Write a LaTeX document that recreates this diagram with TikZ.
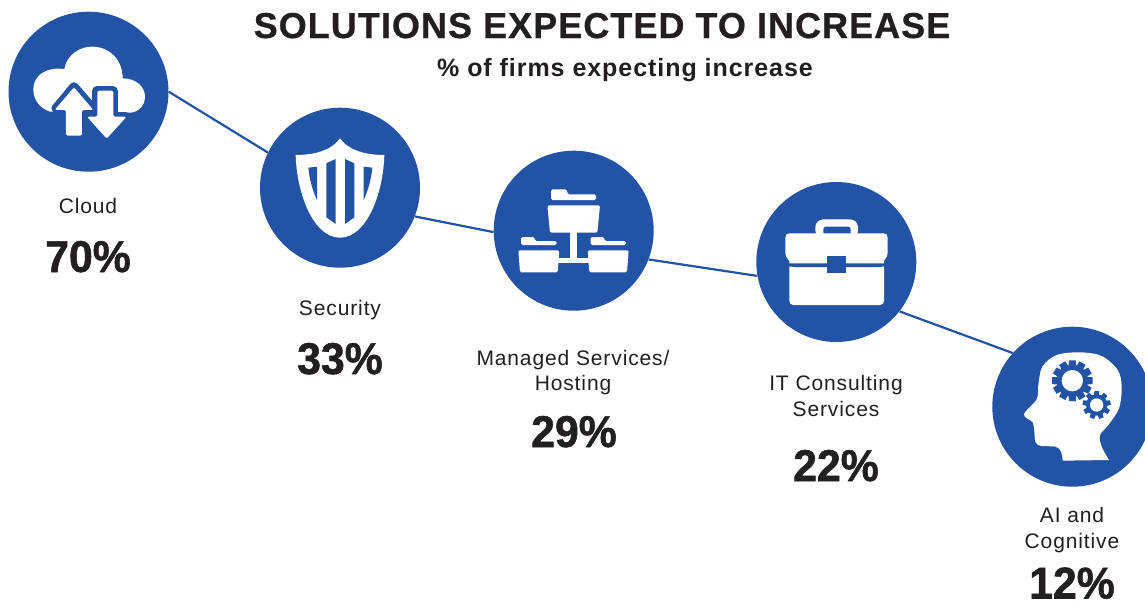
\documentclass[tikz,border=0pt]{standalone}
\usepackage{fontspec}
\setmainfont{Liberation Sans}
\newfontfamily\labelfont[LetterSpace=4.2]{Liberation Sans}
\newfontfamily\titlefont[LetterSpace=2.9,BoldFont={Liberation Sans Bold},BoldFeatures={FakeBold=0.6}]{Liberation Sans}
\newfontfamily\subfont[LetterSpace=3.8,BoldFont={Liberation Sans Bold}]{Liberation Sans}
\newfontfamily\pctfont[BoldFont={Liberation Sans Bold},BoldFeatures={FakeBold=1.2,FakeStretch=0.96}]{Liberation Sans}
\definecolor{bubblue}{HTML}{2353A4}
\definecolor{inkdark}{HTML}{231F20}
\tikzset{
  bub/.style={circle,fill=bubblue,inner sep=0pt,minimum size=160pt},
  link/.style={draw=bubblue,line width=2.2pt},
  lab/.style={inner sep=0pt,align=center,text=inkdark,font=\labelfont\fontsize{21}{25.5}\selectfont},
  pct/.style={inner sep=0pt,anchor=base,text=inkdark,font=\pctfont\bfseries\fontsize{44.5}{48}\selectfont},
  zoomed/.style={x=0.33333pt,y=-0.33333pt}
}
\newcommand{\gearicon}[6]{% cx cy ring-outer hole tooth-outer teeth
  \fill[bubblue] (#1,#2) circle[radius=#3];
  \foreach \a in {1,...,#6}{
    \fill[bubblue,rotate around={\a*360/#6:(#1,#2)}] (#1-#3*0.3,#2) -- (#1-#3*0.22,#2-#5) -- (#1+#3*0.22,#2-#5) -- (#1+#3*0.3,#2) -- cycle;
  }
  \fill[white] (#1,#2) circle[radius=#4];
}
\begin{document}
\begin{tikzpicture}[x=1pt,y=-1pt]
\useasboundingbox (0,0) rectangle (1145,605);
\clip (0,0) rectangle (1145,605);
\fill[white] (0,0) rectangle (1145,605);
% bubbles
\node[bub] (cloud) at (88.5,91.7) {};
\node[bub] (sec) at (340,187.7) {};
\node[bub] (man) at (573.7,230.7) {};
\node[bub] (cons) at (836.3,262) {};
\node[bub] (ai) at (1072.3,406.7) {};
% connectors
\draw[link] (cloud.0) -- (sec.154);
\draw[link] (sec.-21) -- (man.181);
\draw[link] (man.-21) -- (cons.190);
\draw[link] (cons.-38) -- (ai.138);
% cloud icon
\begin{scope}[shift={(0pt,0pt)},zoomed]
\fill[white] (150,335) .. controls (120,325) and (100,300) .. (100,268)
  .. controls (100,225) and (140,200) .. (193,207)
  .. controls (200,165) and (240,138) .. (280,140)
  .. controls (330,142) and (368,180) .. (368,235)
  .. controls (410,235) and (435,262) .. (435,290)
  .. controls (435,320) and (410,340) .. (385,338) -- cycle;
\path[fill=bubblue,draw=bubblue,line width=9pt,line join=round]
  (222,260) -- (278,325) -- (246,325) -- (246,407) -- (198,407) -- (198,325) -- (168,325) -- cycle;
\path[fill=bubblue,draw=bubblue,line width=9pt,line join=round]
  (290,272) -- (340,272) -- (340,350) -- (377,350) -- (320,412) -- (265,350) -- (290,350) -- cycle;
\fill[white,rounded corners=2pt] (222,262) -- (280,330) -- (246,330) -- (246,407) -- (198,407) -- (198,330) -- (164,330) -- cycle;
\fill[white,rounded corners=2pt] (292,272) -- (340,272) -- (340,350) -- (380,350) -- (320,416) -- (261,350) -- (292,350) -- cycle;
\end{scope}
% shield icon
\begin{scope}[shift={(255pt,-100pt)},zoomed]
\fill[white] (255,115) .. controls (235,145) and (190,165) .. (122,165)
  .. controls (125,280) and (175,413) .. (255,413)
  .. controls (335,413) and (385,280) .. (388,165)
  .. controls (320,165) and (275,145) .. (255,115) -- cycle;
\fill[bubblue] (160,203) -- (186,200) -- (186,300) .. controls (172,270) and (163,235) .. (160,203) -- cycle;
\fill[bubblue] (214,190) -- (242,177) -- (242,372) -- (214,352) -- cycle;
\fill[bubblue] (270,177) -- (298,190) -- (298,352) -- (270,372) -- cycle;
\fill[bubblue] (352,203) -- (326,200) -- (326,300) .. controls (340,270) and (349,235) .. (352,203) -- cycle;
\end{scope}
% folders icon
\begin{scope}[shift={(490pt,-145pt)},zoomed]
\fill[white] (240,255) rectangle (262,345);
\fill[white] (205,340) rectangle (297,355);
\fill[white,rounded corners=1.5pt] (183,165) -- (183,133) -- (230,133) -- (233,148) -- (318,148) -- (318,165) -- cycle;
\fill[white,rounded corners=1.5pt] (172,181) -- (330,181) -- (322,263) -- (180,263) -- cycle;
\fill[white,rounded corners=1.5pt] (93,300) -- (93,276) -- (133,276) -- (135,288) -- (200,288) -- (200,300) -- cycle;
\fill[white,rounded corners=1.5pt] (85,316) -- (208,316) -- (203,382) -- (90,382) -- cycle;
\fill[white,rounded corners=1.5pt] (302,300) -- (302,276) -- (342,276) -- (344,288) -- (408,288) -- (408,300) -- cycle;
\fill[white,rounded corners=1.5pt] (293,316) -- (416,316) -- (411,382) -- (298,382) -- cycle;
\end{scope}
% briefcase icon
\begin{scope}[shift={(750pt,-175pt)},zoomed]
\fill[white,rounded corners=4pt] (118,240) rectangle (402,390);
\fill[white,rounded corners=8pt] (196,190) -- (196,133) -- (324,133) -- (324,190) -- cycle;
\fill[bubblue,rounded corners=2.5pt] (220,180) -- (220,155) -- (302,155) -- (302,180) -- cycle;
\fill[white] (106,188) .. controls (106,180) and (110,175) .. (118,175) -- (401,175) .. controls (409,175) and (413,180) .. (413,188)
  -- (413,230) .. controls (413,252) and (398,265) .. (378,265) -- (141,265) .. controls (121,265) and (106,252) .. (106,230) -- cycle;
\fill[bubblue] (100,265) -- (420,265) -- (420,270) .. controls (405,274) and (395,276) .. (385,276) -- (135,276) .. controls (125,276) and (115,274) .. (100,270) -- cycle;
\fill[bubblue] (232,244) rectangle (288,293);
\end{scope}
% head icon
\begin{scope}[shift={(985pt,-320pt)},zoomed]
\fill[white] plot[smooth,tension=0.55] coordinates {(233,422) (228,395) (212,380) (170,378) (152,368) (148,335) (143,307) (117,283) (155,238) (160,195) (172,140) (215,105) (285,97) (350,108) (398,150) (410,200) (402,265) (370,315) (345,345) (350,380) (372,420)} -- cycle;
\gearicon{262}{182}{47}{32}{61}{12}
\gearicon{335}{255}{32}{20}{42}{9}
\end{scope}
% title
\node[inner sep=0pt,anchor=base,text=inkdark,font=\titlefont\bfseries\fontsize{36}{40}\selectfont] (title) at (602,38) {SOLUTIONS EXPECTED TO INCREASE};
\node[inner sep=0pt,anchor=base,text=inkdark,font=\subfont\bfseries\fontsize{25}{28}\selectfont] (subtitle) at (625,76) {\% of firms expecting increase};
% labels
\node[lab] (lcloud) at (88,206) {Cloud};
\node[pct] (pcloud) at (88,272) {70\%};
\node[lab] (lsec) at (340,310) {Security};
\node[pct] (psec) at (340,374) {33\%};
\node[lab] (lman) at (573,372.5) {Managed Services/\\Hosting};
\node[pct] (pman) at (574,447) {29\%};
\node[lab] (lcons) at (836,396) {IT Consulting\\Services};
\node[pct] (pcons) at (836,481) {22\%};
\node[lab] (lai) at (1072,530) {AI and\\Cognitive};
\node[pct] (pai) at (1072,598.5) {12\%};
\end{tikzpicture}
\end{document}
